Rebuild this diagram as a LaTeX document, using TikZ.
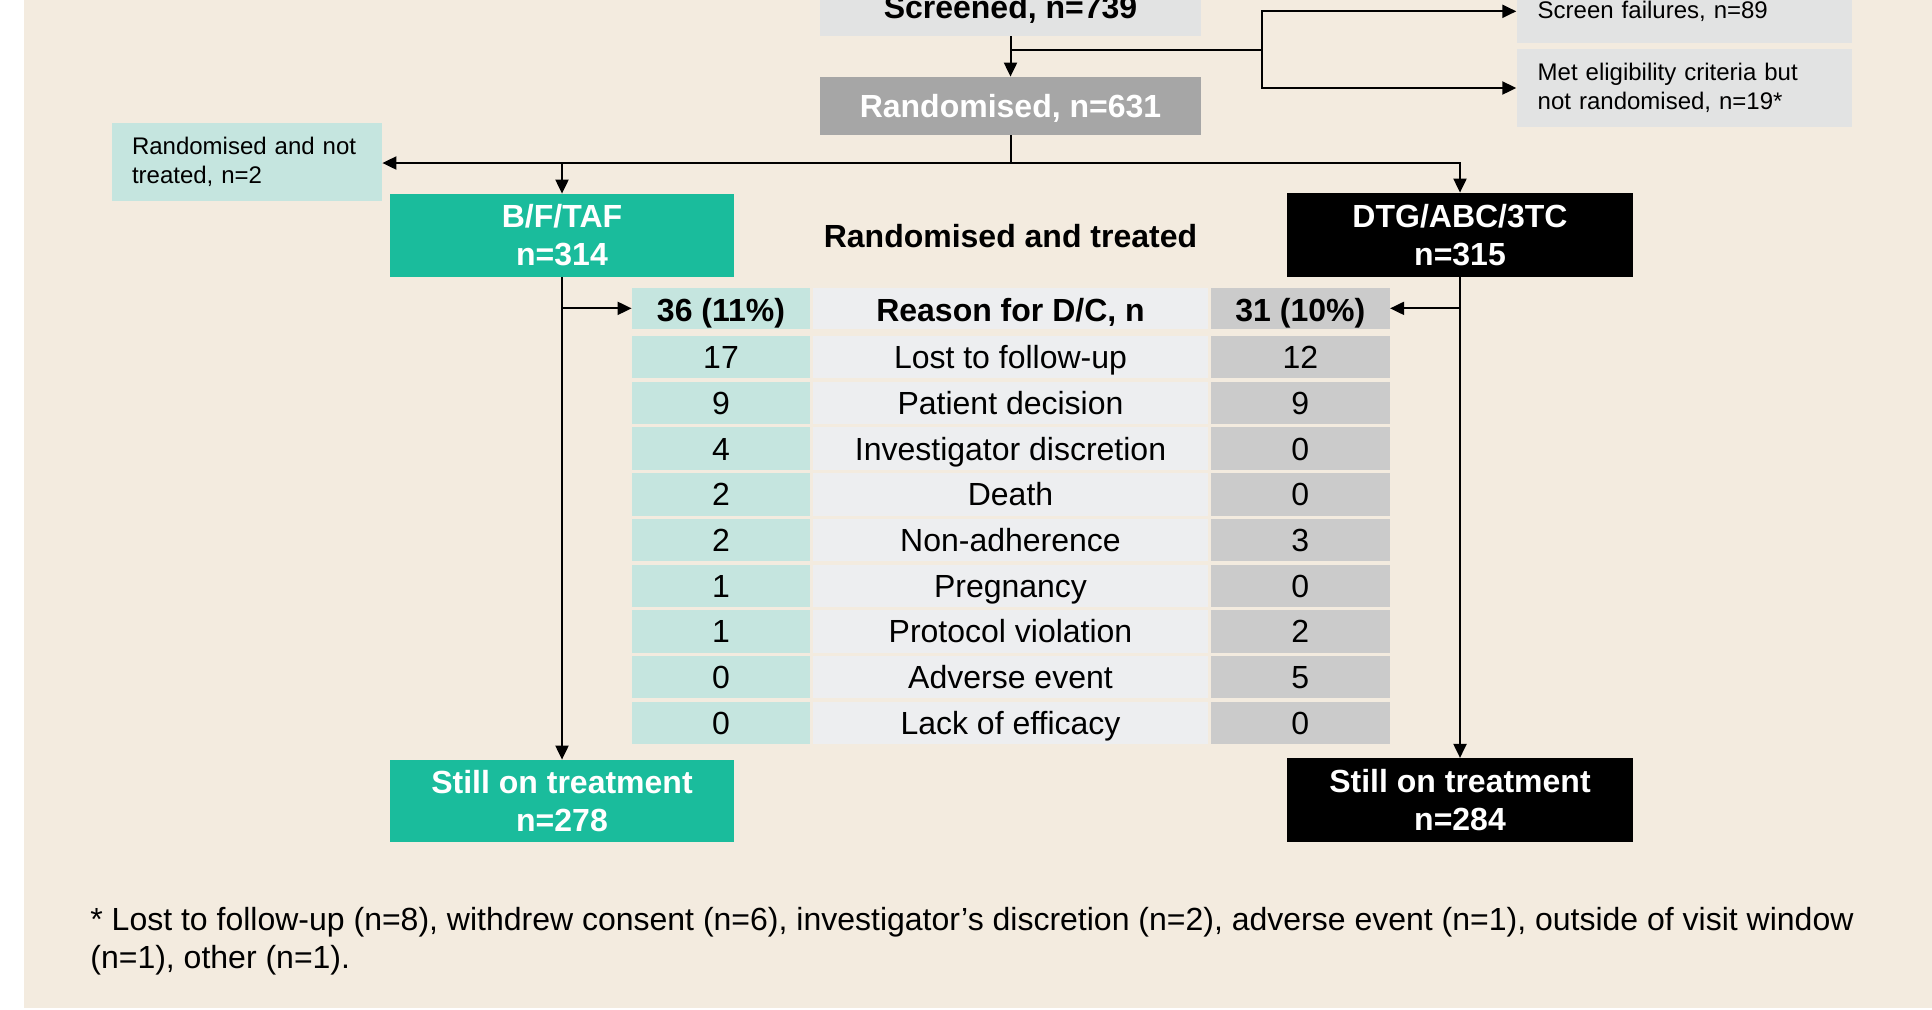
\documentclass[tikz,border=0pt]{standalone}
\usepackage{fontspec}
\setmainfont{Liberation Sans}
\usetikzlibrary{arrows.meta}

\definecolor{bgbeige}{HTML}{F3EBDF}
\definecolor{lightgrey}{HTML}{E2E3E3}
\definecolor{midgrey}{HTML}{A6A6A6}
\definecolor{armteal}{HTML}{1ABC9C}
\definecolor{paleteal}{HTML}{C5E5DF}
\definecolor{cellgrey}{HTML}{EDEEF0}
\definecolor{darkcell}{HTML}{CBCBCB}

\tikzset{
  bigbox/.style={inner sep=0pt, align=center, text=white,
    font=\fontsize{16}{19.2}\selectfont\bfseries},
  oneline/.style={text height=11.5pt, text depth=0pt},
  smallbox/.style={inner xsep=10.5pt, inner ysep=0pt, align=left,
    font=\fontsize{12}{14.4}\selectfont},
  cell/.style={inner sep=0pt, text height=11.5pt, text depth=0pt,
    minimum height=21.2pt, font=\fontsize{16}{19.2}\selectfont},
  headcell/.style={cell, text height=13.4pt, minimum height=20.65pt,
    font=\fontsize{16}{19.2}\selectfont\bfseries},
  arr/.style={-{Triangle[length=7pt,width=6.5pt]}, line width=1pt},
  link/.style={line width=1pt}
}

\begin{document}
\begin{tikzpicture}[x=0.5pt,y=-0.5pt]

\useasboundingbox (0,0) rectangle (1932,1009);
\fill[bgbeige] (24,0) rectangle (1932,1008);

% top of the flow
\node[bigbox, oneline, text=black, fill=lightgrey, minimum width=190.5pt, minimum height=29pt] (screened) at (1010.5,7) {Screened, n=739};
\node[bigbox, oneline, fill=midgrey, minimum width=190.5pt, minimum height=29pt] (randomised) at (1010.5,106) {Randomised, n=631};

\node[smallbox, fill=lightgrey, text width=146.8pt, minimum height=31.3pt] (fail) at (1684.5,11.3) {Screen failures, n=89};
\node[smallbox, fill=lightgrey, text width=146.8pt, minimum height=38.7pt] (met) at (1684.5,88) {Met eligibility criteria but\\not randomised, n=19*};
\node[smallbox, fill=paleteal, inner xsep=10pt, text width=115pt, minimum height=38.85pt] (nottreated) at (247,161.85) {Randomised and not\\treated, n=2};

% arms
\node[bigbox, fill=armteal, minimum width=172pt, minimum height=41.35pt] (bft) at (562,235.35) {B/F/TAF\\n=314};
\node[bigbox, fill=black, minimum width=173pt, minimum height=42pt] (dtg) at (1460,235) {DTG/ABC/3TC\\n=315};
\node[bigbox, oneline, text=black] (treated) at (1010.5,236) {Randomised and treated};

\node[bigbox, fill=armteal, minimum width=172pt, minimum height=41pt] (stillL) at (562,801) {Still on treatment\\n=278};
\node[bigbox, fill=black, minimum width=173pt, minimum height=42pt] (stillR) at (1460,800.3) {Still on treatment\\n=284};

% table
\node[headcell, fill=paleteal, minimum width=89pt] (l0) at (721,308.35) {36 (11\%)};
\node[headcell, fill=cellgrey, minimum width=197.8pt] (m0) at (1010.5,308.35) {Reason for D/C, n};
\node[headcell, fill=darkcell, minimum width=89.35pt] (r0) at (1300.35,308.35) {31 (10\%)};

\foreach \a/\why/\b [count=\i] in {17/Lost to follow-up/12, 9/Patient decision/9, 4/Investigator discretion/0, 2/Death/0, 2/Non-adherence/3, 1/Pregnancy/0, 1/Protocol violation/2, 0/Adverse event/5, 0/Lack of efficacy/0}
{
  \node[cell, fill=paleteal, minimum width=89pt] (l\i) at (721,{357.2+45.7*(\i-1)}) {\a};
  \node[cell, fill=cellgrey, minimum width=197.8pt] (m\i) at (1010.5,{357.2+45.7*(\i-1)}) {\why};
  \node[cell, fill=darkcell, minimum width=89.35pt] (r\i) at (1300.35,{357.2+45.7*(\i-1)}) {\b};
}

% connectors
\coordinate (split) at (1262,50);
\coordinate (rsplit) at (1010.5,163);

\draw[arr] (screened.south) -- (randomised.north);
\draw[link] (screened.south |- split) -- (split);
\draw[arr] (split) |- (fail.west);
\draw[arr] (split) |- (met.west);

\draw[arr] (randomised.south) -- (rsplit) -| (dtg.north);
\draw[arr] (rsplit) -- (rsplit -| nottreated.east);
\draw[arr] (rsplit -| bft.north) -- (bft.north);

\draw[arr] (bft.south) -- (stillL.north);
\draw[arr] (bft.south |- l0.west) -- (l0.west);
\draw[arr] (dtg.south) -- (stillR.north);
\draw[arr] (dtg.south |- r0.east) -- (r0.east);

\node[anchor=base west, align=left, inner sep=0pt, font=\fontsize{16}{19}\selectfont] (note) at (90,968) {* Lost to follow-up (n=8), withdrew consent (n=6), investigator’s discretion (n=2), adverse event (n=1), outside of visit window\\(n=1), other (n=1).};

\end{tikzpicture}
\end{document}
